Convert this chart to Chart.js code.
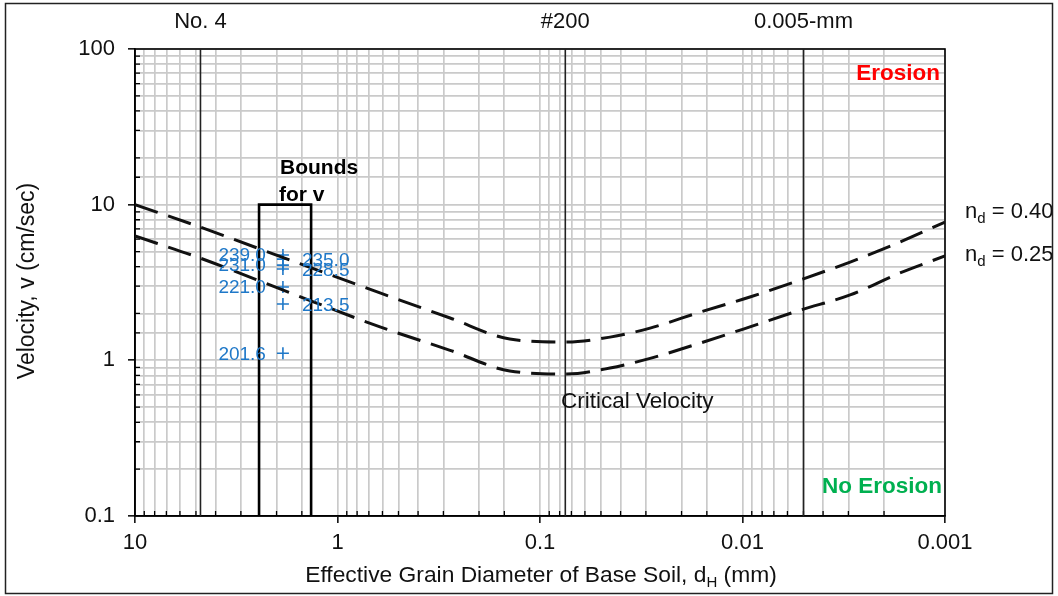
<!DOCTYPE html>
<html><head><meta charset="utf-8">
<script src="https://cdn.jsdelivr.net/npm/chart.js@4.4.1/dist/chart.umd.min.js"></script>
<style>html,body{margin:0;padding:0;background:#fff}canvas{display:block}</style>
</head><body>
<canvas id="c" width="1058" height="596"></canvas>
<script>
// ---- data ----
const xTickLabels = ['10', '1', '0.1', '0.01', '0.001'];
const yTickLabels = ['100', '10', '1', '0.1'];
const curveDiameters = [10, 4.77, 1.72, 0.617, 0.278, 0.141, 0.0736, 0.0451, 0.0286, 0.0162, 0.00919, 0.0052, 0.00294, 0.00167, 0.001];
const upperVelocity = [10.0, 7.18, 4.41, 2.71, 1.87, 1.37, 1.31, 1.41, 1.61, 2.04, 2.55, 3.28, 4.28, 5.75, 7.73];   // n_d = 0.40
const lowerVelocity = [6.29, 4.54, 2.72, 1.64, 1.16, 0.854, 0.817, 0.892, 1.03, 1.29, 1.64, 2.10, 2.63, 3.64, 4.68]; // n_d = 0.25
const curveNames = ['0.40', '0.25'];
const sieveNames = ['No. 4', '#200', '0.005-mm'];
const sieveSizes = [4.75, 0.075, 0.005];
const boundsDiameters = [2.44, 1.35];
const boundsVelocityTop = 10;
const testDiameter = 1.86;
const testVelocities = [4.75, 4.47, 4.09, 3.86, 2.96, 2.30, 1.11];
const testLabels = ['239.0', '235.0', '231.0', '228.5', '221.0', '213.5', '201.6'];
const testLabelSides = ['left', 'right', 'left', 'right', 'left', 'right', 'left'];
const X_MIN = 0.001, X_MAX = 10, Y_MIN = 0.1, Y_MAX = 100;

const FONT = '"Liberation Sans", Arial, sans-serif';
const BLUE = '#1f78c8';
const isMajor = v => Math.abs(Math.log10(v) - Math.round(Math.log10(v))) < 1e-6;

const toPts = (xs, ys) => xs.map((x, i) => ({ x: x, y: ys[i] }));

const datasets = [
  { data: toPts(curveDiameters, upperVelocity), borderColor: '#111', borderWidth: 3, borderDash: [24, 11], pointRadius: 0, cubicInterpolationMode: 'monotone', fill: false },
  { data: toPts(curveDiameters, lowerVelocity), borderColor: '#111', borderWidth: 3, borderDash: [24, 11], pointRadius: 0, cubicInterpolationMode: 'monotone', fill: false },
];
sieveSizes.forEach(s => datasets.push({ data: [{ x: s, y: Y_MIN }, { x: s, y: Y_MAX }], borderColor: '#222', borderWidth: 1.6, pointRadius: 0, tension: 0 }));
datasets.push({
  data: [{ x: boundsDiameters[0], y: Y_MIN }, { x: boundsDiameters[0], y: boundsVelocityTop }, { x: boundsDiameters[1], y: boundsVelocityTop }, { x: boundsDiameters[1], y: Y_MIN }],
  borderColor: '#000', borderWidth: 2.6, pointRadius: 0, tension: 0
});
const TEST_INDEX = datasets.length;
datasets.push({
  data: testVelocities.map(v => ({ x: testDiameter, y: v })),
  showLine: false, pointStyle: 'cross', pointRadius: 6, pointBorderColor: BLUE, pointBorderWidth: 1.6, pointBackgroundColor: BLUE
});

function drawSub(ctx, parts, x, y, align, size) {
  // parts: [text, isSub]
  const big = size + 'px ' + FONT, small = Math.round(size * 0.66) + 'px ' + FONT;
  let w = 0;
  parts.forEach(p => { ctx.font = p[1] ? small : big; w += ctx.measureText(p[0]).width; });
  let cx = align === 'center' ? x - w / 2 : x;
  ctx.textAlign = 'left';
  parts.forEach(p => {
    ctx.font = p[1] ? small : big;
    ctx.fillText(p[0], cx, p[1] ? y + 7 : y);
    cx += ctx.measureText(p[0]).width;
  });
}

const decor = {
  id: 'decor',
  beforeDraw(chart) {
    const ctx = chart.ctx;
    ctx.save();
    ctx.fillStyle = '#fff';
    ctx.fillRect(0, 0, chart.width, chart.height);
    ctx.restore();
  },
  beforeDatasetsDraw(chart) {
    const ctx = chart.ctx, a = chart.chartArea;
    const xs = chart.scales.x, ys = chart.scales.y;
    ctx.save();
    ctx.strokeStyle = '#000';
    ctx.lineWidth = 1.6;
    ctx.strokeRect(a.left, a.top, a.right - a.left, a.bottom - a.top);
    // minor inward ticks
    ctx.lineWidth = 1.3;
    ctx.beginPath();
    xs.ticks.forEach(t => {
      if (isMajor(t.value)) return;
      const px = xs.getPixelForValue(t.value);
      ctx.moveTo(px, a.bottom); ctx.lineTo(px, a.bottom - 5);
    });
    ys.ticks.forEach(t => {
      if (isMajor(t.value)) return;
      const py = ys.getPixelForValue(t.value);
      ctx.moveTo(a.left, py); ctx.lineTo(a.left + 5, py);
    });
    ctx.stroke();
    ctx.restore();
  },
  afterDatasetsDraw(chart) {
    const ctx = chart.ctx, a = chart.chartArea;
    const xs = chart.scales.x;
    ctx.save();
    ctx.textBaseline = 'middle';
    // test point labels
    ctx.font = '19px ' + FONT;
    ctx.fillStyle = BLUE;
    chart.getDatasetMeta(TEST_INDEX).data.forEach((el, i) => {
      if (testLabelSides[i] === 'left') { ctx.textAlign = 'right'; ctx.fillText(testLabels[i], el.x - 17, el.y + 1); }
      else { ctx.textAlign = 'left'; ctx.fillText(testLabels[i], el.x + 19, el.y + 2); }
    });
    // sieve names on top
    ctx.fillStyle = '#111';
    ctx.font = '22px ' + FONT;
    ctx.textAlign = 'center';
    sieveSizes.forEach((s, i) => ctx.fillText(sieveNames[i], xs.getPixelForValue(s), 22));
    // Erosion / No Erosion
    ctx.font = 'bold 22.5px ' + FONT;
    ctx.textAlign = 'right';
    ctx.fillStyle = '#ff0000';
    ctx.fillText('Erosion', a.right - 5, 74);
    ctx.fillStyle = '#00b050';
    ctx.fillText('No Erosion', a.right - 3, 487);
    // Bounds for v
    ctx.font = 'bold 21px ' + FONT;
    ctx.fillStyle = '#000';
    ctx.textAlign = 'left';
    ctx.fillText('Bounds', 280, 168);
    ctx.fillText('for v', 279, 195);
    // Critical velocity
    ctx.font = '22.5px ' + FONT;
    ctx.fillStyle = '#111';
    ctx.fillText('Critical Velocity', 561, 402);
    // n_d labels
    drawSub(ctx, [['n', false], ['d', true], [' = ' + curveNames[0], false]], 965, 212, 'left', 22);
    drawSub(ctx, [['n', false], ['d', true], [' = ' + curveNames[1], false]], 965, 255, 'left', 22);
    // axis titles
    drawSub(ctx, [['Effective Grain Diameter of Base Soil, d', false], ['H', true], [' (mm)', false]], 541, 576, 'center', 22.8);
    ctx.save();
    ctx.translate(28, 281);
    ctx.rotate(-Math.PI / 2);
    ctx.textAlign = 'center';
    ctx.font = '23px ' + FONT;
    ctx.fillText('Velocity, v (cm/sec)', 0, 0);
    ctx.restore();
    // outer frame
    ctx.strokeStyle = '#222';
    ctx.lineWidth = 1.5;
    ctx.strokeRect(5.5, 3.5, 1047, 590);
    ctx.restore();
  }
};

new Chart(document.getElementById('c'), {
  type: 'line',
  data: { datasets },
  plugins: [decor],
  options: {
    responsive: false,
    animation: false,
    devicePixelRatio: 1,
    layout: { padding: { left: 0, right: 113, top: 49, bottom: 0 } },
    plugins: { legend: { display: false }, tooltip: { enabled: false } },
    scales: {
      x: {
        type: 'logarithmic', reverse: true, min: X_MIN, max: X_MAX,
        afterFit: s => { s.height = 80; },
        grid: { color: '#cacaca', lineWidth: 1.7, tickLength: 7, tickWidth: 1.5,
                tickColor: c => (c.tick && isMajor(c.tick.value)) ? '#000' : 'rgba(0,0,0,0)' },
        border: { color: '#000', width: 1.6 },
        ticks: { autoSkip: false, maxRotation: 0, padding: 7, color: '#111', font: { family: FONT, size: 22 },
                 callback: v => isMajor(v) ? xTickLabels[1 - Math.round(Math.log10(v))] : '' }
      },
      y: {
        type: 'logarithmic', min: Y_MIN, max: Y_MAX,
        afterFit: s => { s.width = 135; },
        grid: { color: '#cacaca', lineWidth: 1.7, tickLength: 7, tickWidth: 1.5,
                tickColor: c => (c.tick && isMajor(c.tick.value)) ? '#000' : 'rgba(0,0,0,0)' },
        border: { color: '#000', width: 1.6 },
        ticks: { autoSkip: false, padding: 13, color: '#111', font: { family: FONT, size: 22 },
                 callback: v => isMajor(v) ? yTickLabels[2 - Math.round(Math.log10(v))] : '' }
      }
    }
  }
});
</script>
</body></html>
